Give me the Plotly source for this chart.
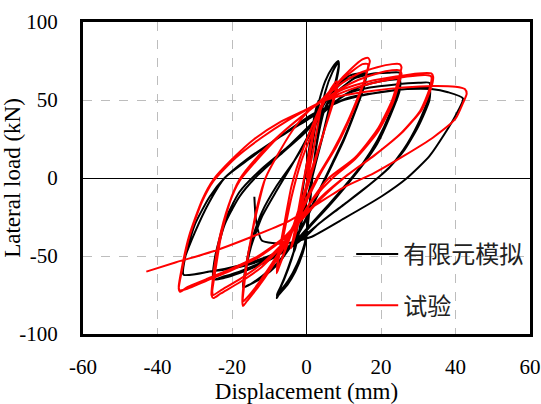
import plotly.graph_objects as go

# ---- data: finite element simulation (black) ----
fem_disp = [0, 1, 2, 3, 3.5,
            3, 1.5, 0, -1.5, -3, -3.5,
            -3, -1.5, 0, 1.5, 3,
            5, 7, 8.5, 8.7,
            8, 6.5, 4.5, 2, 0, -2, -4, -6, -7.5, -8, -7.5,
            -5, -3, -1, 0, 1, 2, 3.5, 5, 7, 8.5, 8.7,
            8, 6, 4, 1.5, -0.5, -2.5, -5, -7, -8,
            -5, -2.5, -0.5, 0.5, 1.5, 3, 5, 8, 11, 14, 16,
            15.5, 13, 10, 7, 4, 1, -1, -4, -8, -12, -15, -17,
            -16.5, -15, -12, -8, -4, 0, 3, 6, 10, 14, 16,
            15.5, 13, 10, 7, 4, 1, -1, -4, -8, -12, -15, -17,
            -16.5, -15, -12, -8, -3, 1, 5, 9, 13, 18, 22, 25,
            25, 22.5, 19, 15, 11, 6, 1, -2, -6, -12, -18, -22, -25,
            -24.5, -22, -18, -13, -7, 0, 5, 10, 15, 20, 25,
            25, 22.5, 19, 15, 11, 6, 1, -2, -6, -12, -18, -22, -25,
            -24.5, -22, -18, -12, -5, 1, 6, 11, 17, 24, 30, 33,
            33, 30, 26, 22, 16, 10, 4, 0, -4, -10, -18, -26, -33,
            -32.5, -30, -26, -22, -16, -8, 0, 6, 12, 20, 27, 33,
            33, 30, 26, 21, 15, 9, 3, 0, -4, -10, -18, -26, -33,
            -33, -30, -26, -22, -15.5, -8, 1, 10, 19.6, 27, 33.5, 38, 42,
            40, 37, 33, 27, 20, 10, 1, -6, -12, -13.5, -14]
fem_load = [0, 20, 38, 48, 50,
            42, 20, -5, -28, -45, -48,
            -40, -15, 8, 30, 46,
            62, 71, 75, 73,
            64, 48, 28, 5, -15, -35, -52, -65, -73, -77, -75,
            -68, -60, -48, -38, -15, 10, 35, 55, 68, 74, 72,
            62, 44, 24, 0, -20, -40, -58, -70, -75,
            -66, -55, -42, -25, 0, 25, 45, 58, 65, 67, 67,
            60, 43, 25, 10, -5, -20, -30, -42, -55, -63, -68, -70,
            -62, -45, -25, -8, 8, 25, 40, 52, 62, 66, 67,
            59, 42, 24, 9, -6, -21, -31, -43, -56, -64, -68, -70,
            -60, -42, -22, -5, 12, 28, 45, 57, 64, 67, 67.5, 67.5,
            60, 42, 24, 9, -3, -17, -30, -38, -46, -54, -60, -63, -65,
            -52, -30, -12, 2, 15, 30, 43, 53, 59, 62, 63,
            56, 40, 22, 8, -4, -18, -31, -39, -47, -55, -61, -64, -65,
            -50, -28, -9, 6, 20, 34, 46, 54, 58, 60, 61, 61,
            53, 35, 18, 6, -6, -17, -28, -36, -43, -50, -56, -60, -62,
            -50, -30, -12, 0, 12, 25, 37, 46, 52, 55, 57, 58,
            50, 33, 17, 4, -8, -19, -30, -37, -44, -51, -57, -60, -62,
            -54, -35, -15, 0, 12, 25, 40, 50, 55, 57, 57, 55, 51,
            40, 28, 14, 0, -12, -26, -38, -42, -40, -28, -12]

# ---- data: test (red) ----
test_disp = [0, 1, 2, 3.5, 4,
             3.5, 2, 0.5, -1, -2.5, -4, -4.2,
             -3.5, -2, -0.5, 1, 2.5, 4,
             6, 8, 8.2,
             7.5, 5.5, 3, 0.5, -2, -5, -7.5, -8,
             -7.5, -6, -4, -1.5, 1, 4, 6, 8, 8.2,
             7.5, 5, 2, -1, -4, -7, -8,
             -7.5, -6, -4, -1, 2, 4, 8, 12, 15, 16.5, 17,
             16.5, 15, 12, 8, 4, 1, -2, -5, -9, -13, -16, -17, -17.2,
             -16.8, -15, -13, -11, -7, -3, 1, 4, 8, 12, 15, 16.5,
             16, 14, 11, 7, 3, 0, -3, -7, -11, -14, -16.5, -17,
             -16.5, -15, -13, -11, -7, -3, 1, 4, 9, 14, 19, 23, 25, 25.5,
             25, 23, 19, 13, 6, 2, -2, -6, -12, -18, -23, -25, -25.5,
             -25, -23.5, -21, -18, -13, -7, -1, 4, 9, 14, 19, 23, 25, 25.5,
             25, 23, 19, 13, 7, 2, -2, -6, -12, -18, -23, -25, -25.3,
             -24.5, -23, -20.5, -18, -12, -6, 0, 4, 10, 17, 24, 30, 33.5, 34,
             33.5, 31, 26, 19, 11, 4, -1, -6, -13, -20, -27, -32, -34, -34.3,
             -33.5, -31.5, -28, -25, -19, -12, -5, 1, 5, 12, 20, 27, 32, 33.5,
             33, 30.5, 25.5, 18.5, 10.5, 4, -1, -6, -13, -20, -27, -32, -34, -34.3,
             -33.5, -31.5, -28, -25, -20, -14, -7, 0, 4, 10, 18, 26, 34, 40, 42.5, 43,
             42, 40, 34, 26, 18, 10, 2, -5, -15, -25, -35, -43]
test_load = [0, 16, 30, 44, 47,
             40, 20, 2, -15, -32, -44, -45,
             -38, -18, 2, 20, 36, 46,
             55, 62, 61,
             53, 36, 16, -4, -22, -42, -58, -61,
             -52, -35, -12, 10, 26, 45, 54, 60, 59,
             51, 32, 10, -12, -34, -54, -60,
             -50, -30, -5, 18, 36, 47, 60, 70, 76, 77, 75,
             70, 58, 40, 20, 4, -10, -25, -40, -56, -70, -79, -82, -80,
             -66, -40, -18, 0, 18, 33, 44, 50, 60, 68, 73, 73,
             66, 53, 36, 17, 1, -13, -28, -46, -61, -71, -78, -79,
             -64, -40, -16, 0, 18, 33, 44, 50, 60, 67, 71, 73, 73, 71,
             66, 50, 31, 13, 0, -12, -27, -42, -57, -67, -74, -77, -75,
             -62, -40, -18, -1, 14, 28, 40, 49, 57, 63, 67, 69, 69, 67,
             62, 47, 29, 12, 0, -13, -27, -41, -55, -65, -72, -75, -73,
             -60, -38, -15, -2, 15, 30, 42, 49, 57, 62, 65, 67, 67, 65,
             58, 44, 30, 16, 2, -12, -25, -38, -50, -58, -65, -70, -73, -71,
             -60, -38, -15, -2, 13, 26, 37, 45, 50, 57, 62, 65, 66, 65,
             57, 43, 29, 15, 1, -13, -26, -39, -51, -59, -66, -71, -72, -70,
             -58, -37, -14, -1, 12, 25, 36, 44, 49, 53, 56, 58, 59, 58.5, 57, 54,
             48, 38, 26, 14, 3, -6, -18, -28, -38, -47, -54, -60]

x_ticks = [-60, -40, -20, 0, 20, 40, 60]
x_tick_text = ["-60", "-40", "-20", "0", "20", "40", "60"]
y_ticks = [-100, -50, 0, 50, 100]
y_tick_text = ["-100", "-50", "0", "50", "100"]

serif = "Liberation Serif"

fig = go.Figure()
fig.add_trace(go.Scatter(x=fem_disp, y=fem_load, mode="lines", name="有限元模拟",
                         legendgroup="a",
                         line=dict(color="#000000", width=2, shape="spline", smoothing=0.6)))
fig.add_trace(go.Scatter(x=test_disp, y=test_load, mode="lines", name="试验",
                         legendgroup="b",
                         line=dict(color="#ff0000", width=2, shape="spline", smoothing=0.6)))

axis_common = dict(
    showline=True, mirror=True, linewidth=3, linecolor="black",
    showgrid=True, gridcolor="#bdbdbd", griddash="dash", gridwidth=1.3,
    zeroline=True, zerolinecolor="black", zerolinewidth=1.3,
    ticks="outside", tickcolor="rgba(0,0,0,0)",
    tickfont=dict(family=serif, size=21, color="black"),
    automargin=False,
)

fig.update_xaxes(range=[-60, 60], tickvals=x_ticks, ticktext=x_tick_text, ticklen=12,
                 title=dict(text="Displacement (mm)", font=dict(family=serif, size=23, color="black"),
                            standoff=0),
                 **axis_common)
fig.update_yaxes(range=[-100, 100], tickvals=y_ticks, ticktext=y_tick_text, ticklen=18,
                 title=dict(text="Lateral load (kN)", font=dict(family=serif, size=23, color="black"),
                            standoff=2),
                 **axis_common)

fig.update_layout(
    width=541, height=404,
    margin=dict(l=83, r=11, t=22, b=70),
    plot_bgcolor="white", paper_bgcolor="white",
    showlegend=True,
    legend=dict(x=0.6, y=0.327, xanchor="left", yanchor="top",
                bgcolor="rgba(0,0,0,0)", tracegroupgap=17, itemwidth=42,
                font=dict(family="Noto Sans CJK SC", size=24, color="#222222")),
)

fig.write_html("out.html")
